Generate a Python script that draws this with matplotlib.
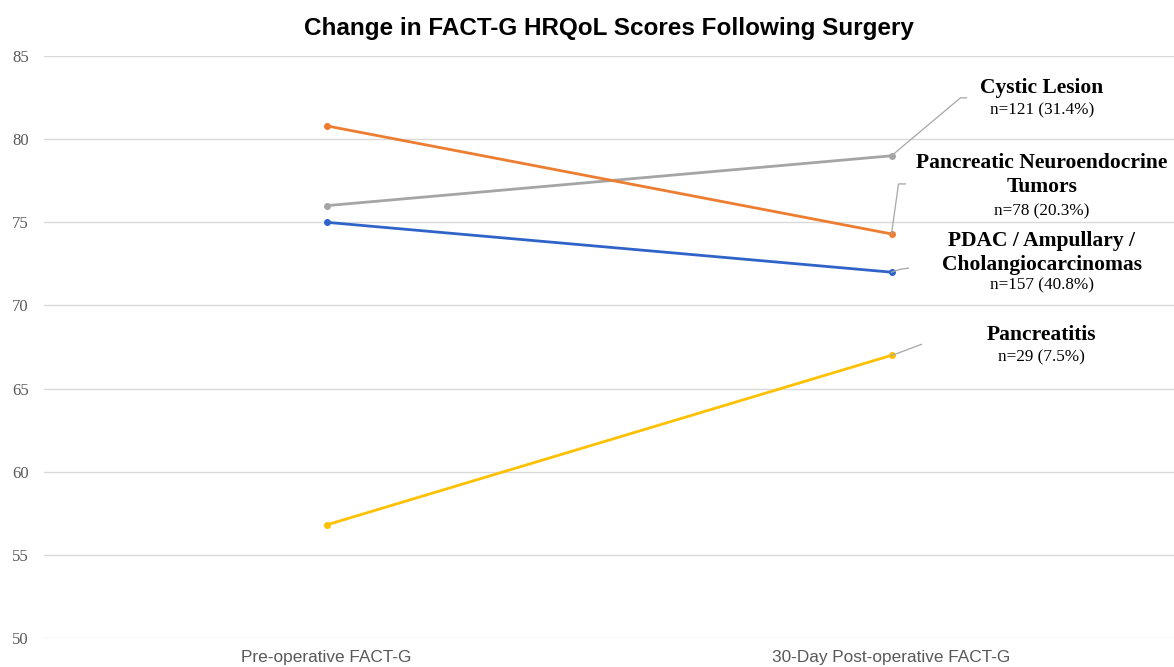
import matplotlib.pyplot as plt
from matplotlib.lines import Line2D
from matplotlib.transforms import IdentityTransform

# data
timepoints = ['Pre-operative FACT-G', '30-Day Post-operative FACT-G']
groups = ['Cystic Lesion', 'Pancreatic Neuroendocrine\nTumors',
          'PDAC / Ampullary /\nCholangiocarcinomas', 'Pancreatitis']
counts = ['n=121 (31.4%)', 'n=78 (20.3%)', 'n=157 (40.8%)', 'n=29 (7.5%)']
cystic = [76.0, 79.0]
pnet = [80.8, 74.3]
pdac = [75.0, 72.0]
pancreatitis = [56.8, 67.0]
yticks = [50, 55, 60, 65, 70, 75, 80, 85]

series = [cystic, pnet, pdac, pancreatitis]
colors = ['#a5a5a5', '#ed7d31', '#2f63c8', '#ffc000']

# label placement (data y of name block centre / count line centre)
name_y = [83.07, 77.84, 73.15, 68.22]
count_y = [81.75, 75.68, 71.23, 66.90]
# leader line vertices, pixel offsets from the end point
leaders = [[(69, 58), (75, 58)],
           [(7, 50), (14, 50)],
           [(9, 3), (17, 4)],
           [(6, 2), (30, 11)]]

fig = plt.figure(figsize=(11.74, 6.67), dpi=100)
ax = fig.add_axes([0.0375, 0.0435, 0.9625, 0.8725])

x = list(range(len(timepoints)))
for vals, c in zip(series, colors):
    ax.plot(x, vals, color=c, lw=2.0, marker='o', ms=4, zorder=3)

ax.set_xlim(-0.5, 1.5)
ax.set_ylim(50, 85)
ax.set_yticks(yticks)
ax.set_yticklabels([str(t) for t in yticks], family='Liberation Serif',
                   fontsize=12, color='#595959')
ax.set_xticks(x)
ax.set_xticklabels(timepoints, family='Liberation Sans', fontsize=12.4,
                   color='#595959')
ax.tick_params(length=0)
ax.tick_params(axis='x', pad=9)
ax.tick_params(axis='y', pad=11)
ax.grid(axis='y', color='#d9d9d9', lw=1)
ax.set_axisbelow(True)
for s in ax.spines.values():
    s.set_visible(False)

ax.set_title('Change in FACT-G HRQoL Scores Following Surgery',
             family='Liberation Sans', fontweight='bold', fontsize=17.5, pad=15.5)

# labels with leader lines
lx = 1.266
for vals, name, n, ny, cy, pts in zip(series, groups, counts, name_y,
                                      count_y, leaders):
    px, py = ax.transData.transform((1, vals[1]))
    xs = [px] + [px + dx for dx, dy in pts]
    ys = [py] + [py + dy for dx, dy in pts]
    fig.add_artist(Line2D(xs, ys, transform=IdentityTransform(),
                          color='#a6a6a6', lw=0.9))
    ax.text(lx, ny, name, family='Liberation Serif', fontweight='bold',
            fontsize=15.5, ha='center', va='center', linespacing=1.25)
    ax.text(lx, cy, n, family='Liberation Serif', fontsize=12.3,
            ha='center', va='center')

plt.savefig('out.png', dpi=100)
